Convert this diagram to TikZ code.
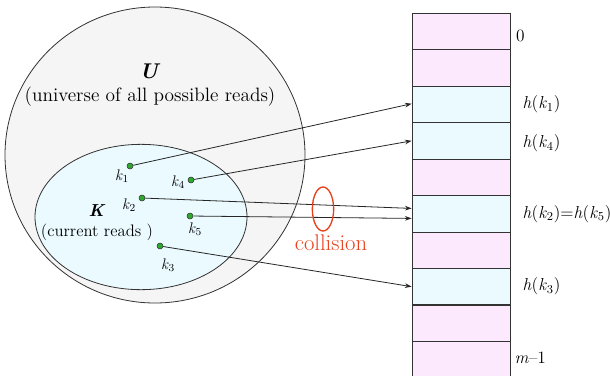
\documentclass[tikz,border=0pt]{standalone}
\usepackage{fontspec}
\usetikzlibrary{arrows.meta,shapes.geometric}

\definecolor{ugray}{HTML}{F5F5F5}
\definecolor{kcyan}{HTML}{EAFAFF}
\definecolor{slotpink}{HTML}{FDE9FD}
\definecolor{dotgreen}{HTML}{2EA82E}
\definecolor{collred}{HTML}{E8401C}

\newcommand{\keyk}[1]{\textit{k}\textsubscript{#1}}
\newcommand{\hashof}[1]{\textit{h}(\textit{k}\textsubscript{#1})}

\tikzset{
  setshape/.style={ellipse, draw=black!80, line width=0.6pt, inner sep=0pt},
  keydot/.style={circle, draw=black!80, fill=dotgreen, line width=0.4pt,
                 inner sep=0pt, minimum size=4.5pt},
  keylabel/.style={font=\fontsize{11.5}{11.5}\selectfont, inner sep=0pt},
  slot/.style={draw=black!80, line width=0.6pt, inner sep=0pt,
               minimum width=73.5pt, minimum height=27.3pt},
  slotlabel/.style={anchor=west, inner sep=0pt, font=\fontsize{13}{13}\selectfont},
  hasharrow/.style={draw=black!85, line width=0.6pt,
                    -{Stealth[length=5pt,width=3.5pt]}},
  settext/.style={font=\fontsize{14.5}{16}\selectfont, inner sep=0pt}
}

\begin{document}
\begin{tikzpicture}[x=0.75pt,y=-0.75pt]
\useasboundingbox (0,0) rectangle (610,375);
\clip (0,0) rectangle (610,375);
\fill[white] (0,0) rectangle (610,375);

% universe U and the set K of current keys
\node[setshape, fill=ugray, minimum width=225pt, minimum height=222pt] (U) at (155,155) {};
\node[setshape, fill=kcyan, minimum width=159pt, minimum height=109pt] (K) at (141,217) {};

\node[settext, font=\fontsize{16}{16}\selectfont] (Uname) at (150,71) {\textbf{\textit{U}}};
\node[settext] (Udesc) at (150,97) {(universe of all possible reads)};
\node[settext, font=\fontsize{13}{13}\selectfont] (Kname) at (97,211) {\textbf{\textit{K}}};
\node[settext, font=\fontsize{12.5}{14}\selectfont] (Kdesc) at (97,232) {(current reads )};

% keys
\node[keydot] (k1) at (130,166) {};
\node[keydot] (k4) at (191,180) {};
\node[keydot] (k2) at (142,198) {};
\node[keydot] (k5) at (190,216) {};
\node[keydot] (k3) at (160,246) {};

\node[keylabel] (k1l) at (122,176) {\keyk{1}};
\node[keylabel] (k4l) at (178,182) {\keyk{4}};
\node[keylabel] (k2l) at (129,205) {\keyk{2}};
\node[keylabel] (k5l) at (195,229) {\keyk{5}};
\node[keylabel] (k3l) at (168,265) {\keyk{3}};

% hash table slots
\foreach \i in {0,...,9}{
  \pgfmathsetmacro{\cy}{13.3+36.45*\i+18.2}
  \ifnum\i=2 \def\slotfill{kcyan}\else
  \ifnum\i=3 \def\slotfill{kcyan}\else
  \ifnum\i=5 \def\slotfill{kcyan}\else
  \ifnum\i=7 \def\slotfill{kcyan}\else
  \def\slotfill{slotpink}\fi\fi\fi\fi
  \node[slot, fill=\slotfill] (s\i) at (461,\cy) {};
}

\node[slotlabel] (lab0) at ([xshift=4pt,yshift=-3pt]s0.east) {0};
\node[slotlabel] (lab1) at ([xshift=9pt]s2.east) {\hashof{1}};
\node[slotlabel] (lab4) at ([xshift=9pt,yshift=-2pt]s3.east) {\hashof{4}};
\node[slotlabel] (lab25) at ([xshift=9pt]s5.east) {\hashof{2}=\hashof{5}};
\node[slotlabel] (lab3) at ([xshift=9pt]s7.east) {\hashof{3}};
\node[slotlabel] (labm) at ([xshift=3pt,yshift=1pt]s9.east) {\textit{m}–1};

% hash mappings
\path[hasharrow] (k1) -- ([yshift=0.5pt]s2.west);
\path[hasharrow] (k4) -- (s3.west);
\path[hasharrow] (k2) -- ([yshift=4pt]s5.west);
\path[hasharrow] (k5) -- ([yshift=-3.5pt]s5.west);
\path[hasharrow] (k3) -- (s7.west);

% collision marker
\node[ellipse, draw=collred, line width=1pt, minimum width=16pt, minimum height=33pt,
      inner sep=0pt] (coll) at (323,209) {};
\node[font=\fontsize{17}{17}\selectfont, text=collred, inner sep=0pt] (colltext) at (331,243) {collision};
\end{tikzpicture}
\end{document}
